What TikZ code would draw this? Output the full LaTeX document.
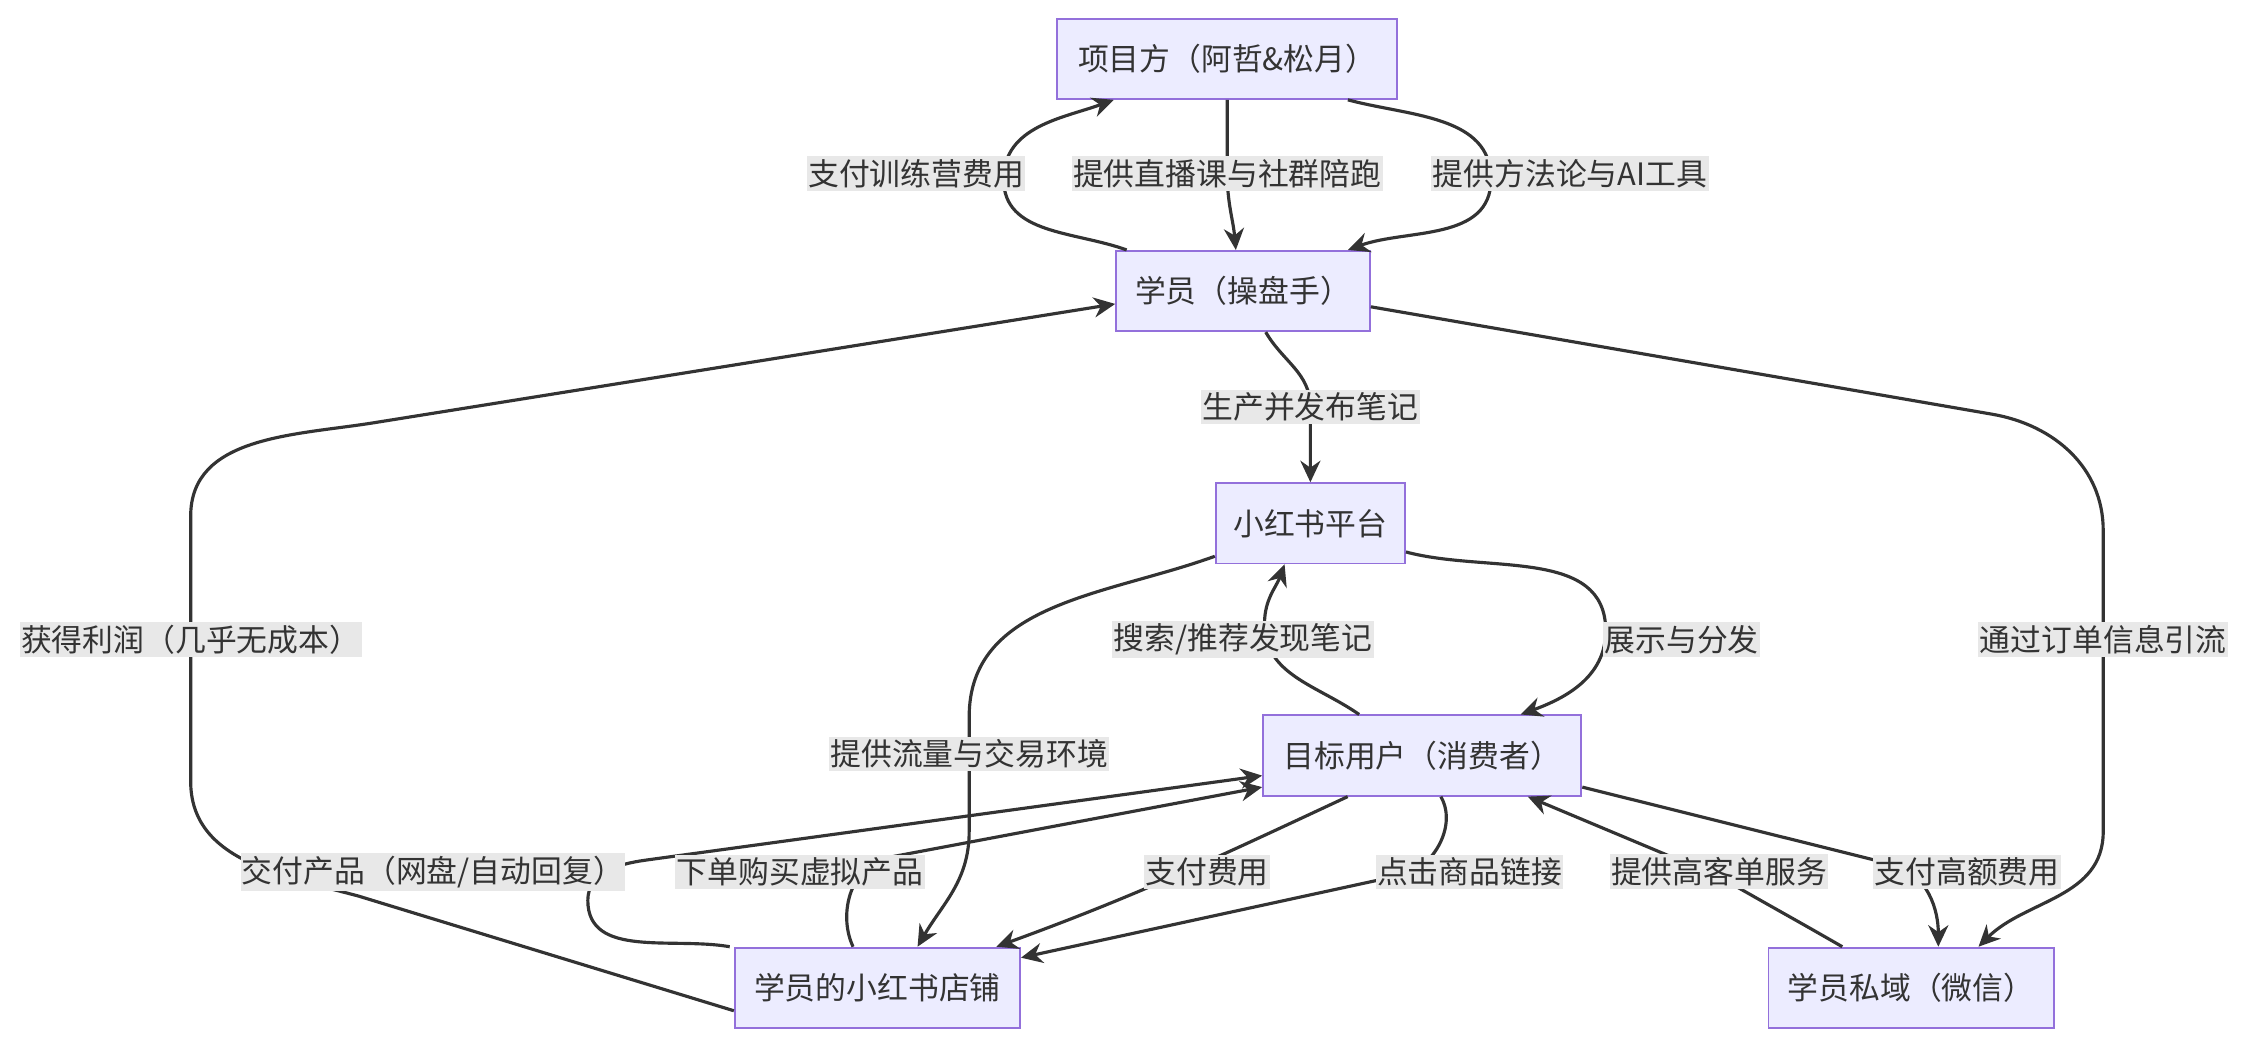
\documentclass[tikz,border=0pt]{standalone}
\usepackage{fontspec}
\setmainfont{Noto Sans CJK SC}
\usetikzlibrary{arrows.meta}
\definecolor{nodefill}{HTML}{ECECFF}
\definecolor{nodeline}{HTML}{9370DB}
\definecolor{edge}{HTML}{333333}
\definecolor{lblbg}{HTML}{E8E8E8}
\begin{document}
\begin{tikzpicture}[x=1pt,y=1pt,
  box/.style={draw=nodeline,fill=nodefill,line width=1.3pt,inner sep=0pt,font=\fontsize{21.5}{25}\selectfont,text=edge},
  lbl/.style={fill=lblbg,inner xsep=1pt,inner ysep=2pt,font=\fontsize{21.5}{25}\selectfont,text=edge},
  e/.style={draw=edge,line width=2.2pt,-{Stealth[length=15pt,width=14pt]}}]
\useasboundingbox (0,0) rectangle (1568,-730);
\node[box,minimum width=237,minimum height=56] (P) at (856,-41) {项目方（阿哲\&松月）};
\node[box,minimum width=177,minimum height=56] (S) at (867,-203) {学员（操盘手）};
\node[box,minimum width=132,minimum height=56] (X) at (914,-365) {小红书平台};
\node[box,minimum width=222,minimum height=56] (U) at (992,-527) {目标用户（消费者）};
\node[box,minimum width=199,minimum height=56] (Sh) at (612,-689) {学员的小红书店铺};
\node[box,minimum width=199,minimum height=56] (W) at (1333,-689) {学员私域（微信）};

\draw[e] ([xshift=8]S.north west) to[out=160,in=270] (700,-125) to[out=90,in=200] ([xshift=40]P.south west);
\draw[e] ([xshift=0]P.south) -- (856,-121) to[out=-90,in=95] ([xshift=-5]S.north);
\draw[e] ([xshift=-35]P.south east) to[out=-15,in=90] (1040,-125) to[out=-90,in=20] ([xshift=-16]S.north east);
\draw[e] ([yshift=-16]Sh.west) -- (250,-625) to[out=165,in=-90] (133,-545) -- (133,-360) to[out=90,in=-171] (260,-295) -- ([yshift=-9]S.west);
\draw[e] ([yshift=-11]S.east) -- (1390,-289) to[out=-10,in=90] (1467,-370) -- (1467,-580) to[out=-90,in=45] ([xshift=47]W.north);
\draw[e] ([xshift=17]S.south west |- S.south) ++(88,0) to[out=-60,in=90] (914,-284) -- (X.north);
\draw[e] ([yshift=-23]X.west) to[out=200,in=90] (676,-500) -- (676,-580) to[out=-90,in=60] ([xshift=28]Sh.north);
\draw[e] ([xshift=-44]U.north) to[out=145,in=-90] (882,-435) to[out=90,in=-110] ([xshift=-18]X.south);
\draw[e] ([yshift=-20]X.east) to[out=-15,in=90] (1120,-440) to[out=-90,in=20] ([xshift=-43]U.north east);
\draw[e] ([xshift=-17]Sh.north) to[out=115,in=190] (620,-598) -- ([yshift=-22]U.west);
\draw[e] ([xshift=-103]Sh.north) to[out=170,in=-90] (410,-628) to[out=90,in=188] (450,-600) -- ([yshift=-14]U.west);
\draw[e] ([xshift=-52]U.south) to[out=-155,in=20] ([xshift=83]Sh.north);
\draw[e] ([xshift=13]U.south) to[out=-60,in=0] (970,-612) -- ([yshift=21]Sh.east);
\draw[e] ([xshift=-48]W.north) to[out=150,in=-30] (1200,-612) -- ([xshift=-38]U.south east);
\draw[e] ([yshift=-22]U.east) -- (1320,-603) to[out=-15,in=90] ([xshift=19]W.north);

\node[lbl] (L1) at (639,-121) {支付训练营费用};
\node[lbl] (L2) at (856,-121) {提供直播课与社群陪跑};
\node[lbl] (L3) at (1095,-121) {提供方法论与AI工具};
\node[lbl] (L4) at (133,-446) {获得利润（几乎无成本）};
\node[lbl] (L5) at (1467,-446) {通过订单信息引流};
\node[lbl] (L6) at (914,-284) {生产并发布笔记};
\node[lbl] (L7) at (676,-526) {提供流量与交易环境};
\node[lbl] (L8) at (867,-446) {搜索/推荐发现笔记};
\node[lbl] (L9) at (1173,-446) {展示与分发};
\node[lbl] (L10) at (558,-608) {下单购买虚拟产品};
\node[lbl] (L11) at (302,-608) {交付产品（网盘/自动回复）};
\node[lbl] (L12) at (842,-608) {支付费用};
\node[lbl] (L13) at (1025,-608) {点击商品链接};
\node[lbl] (L14) at (1199,-608) {提供高客单服务};
\node[lbl] (L15) at (1372,-608) {支付高额费用};
\end{tikzpicture}
\end{document}
